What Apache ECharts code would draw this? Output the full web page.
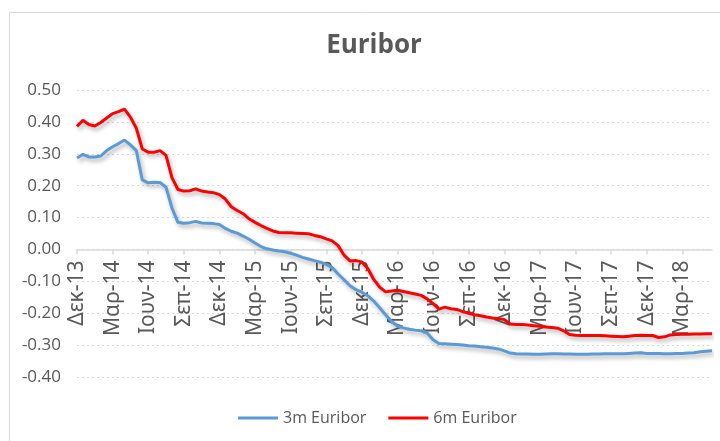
<!DOCTYPE html>
<html>
<head>
<meta charset="utf-8">
<script src="https://cdn.jsdelivr.net/npm/echarts@6/dist/echarts.min.js"></script>
<style>html,body{margin:0;padding:0;background:#fff}#c{width:720px;height:441px}</style>
</head>
<body>
<div id="c"></div>
<script>
// Month names (Greek), starting Dec 2013; each month has two half-month points
const monthNames = ["Ιαν","Φεβ","Μαρ","Απρ","Μαϊ","Ιουν","Ιουλ","Αυγ","Σεπ","Οκτ","Νοε","Δεκ"];
const tickLabels = ["Δεκ-13","Μαρ-14","Ιουν-14","Σεπ-14","Δεκ-14","Μαρ-15","Ιουν-15","Σεπ-15","Δεκ-15","Μαρ-16","Ιουν-16","Σεπ-16","Δεκ-16","Μαρ-17","Ιουν-17","Σεπ-17","Δεκ-17","Μαρ-18"];

const euribor3m = [
 0.287,0.298,0.290,0.290,0.293,0.310,0.322,0.332,0.343,0.328,
 0.310,0.218,0.209,0.211,0.210,0.195,0.130,0.085,0.082,0.084,
 0.088,0.083,0.082,0.081,0.078,0.066,0.057,0.051,0.042,0.032,
 0.020,0.009,0.002,-0.002,-0.005,-0.007,-0.012,-0.018,-0.025,-0.030,
 -0.035,-0.040,-0.047,-0.057,-0.077,-0.095,-0.114,-0.126,-0.134,-0.145,
 -0.162,-0.183,-0.205,-0.226,-0.240,-0.246,-0.250,-0.253,-0.255,-0.262,
 -0.283,-0.295,-0.296,-0.297,-0.298,-0.300,-0.302,-0.303,-0.305,-0.307,
 -0.309,-0.312,-0.318,-0.325,-0.327,-0.328,-0.328,-0.329,-0.329,-0.328,
 -0.327,-0.327,-0.328,-0.328,-0.329,-0.329,-0.329,-0.328,-0.328,-0.327,
 -0.327,-0.327,-0.327,-0.326,-0.325,-0.324,-0.326,-0.326,-0.326,-0.327,
 -0.327,-0.326,-0.326,-0.325,-0.324,-0.321,-0.319,-0.318
];
const euribor6m = [
 0.386,0.405,0.392,0.387,0.398,0.412,0.426,0.432,0.440,0.415,
 0.380,0.315,0.305,0.305,0.310,0.295,0.225,0.188,0.183,0.184,
 0.190,0.183,0.180,0.178,0.172,0.158,0.134,0.122,0.112,0.096,
 0.085,0.075,0.066,0.058,0.053,0.052,0.052,0.051,0.050,0.049,
 0.044,0.040,0.033,0.027,0.012,-0.018,-0.036,-0.035,-0.039,-0.060,
 -0.094,-0.118,-0.133,-0.130,-0.128,-0.132,-0.136,-0.140,-0.144,-0.155,
 -0.170,-0.187,-0.181,-0.186,-0.188,-0.195,-0.200,-0.205,-0.208,-0.212,
 -0.215,-0.217,-0.220,-0.234,-0.235,-0.235,-0.237,-0.239,-0.241,-0.243,
 -0.245,-0.247,-0.255,-0.267,-0.269,-0.270,-0.270,-0.270,-0.270,-0.271,
 -0.272,-0.273,-0.274,-0.272,-0.270,-0.269,-0.270,-0.270,-0.276,-0.274,
 -0.268,-0.267,-0.266,-0.266,-0.265,-0.265,-0.264,-0.264
];

// half-month categories from Dec 2013
const categories = [];
for (let i = 0; i < euribor3m.length; i++) {
  const m = 11 + Math.floor(i / 2);
  const yr = 13 + Math.floor(m / 12);
  categories.push(monthNames[m % 12] + "-" + yr + (i % 2 ? " (β)" : ""));
}

const font = "'Open Sans', sans-serif";
const greekFont = "'Noto Sans', 'Open Sans', sans-serif";
const gridTop = 90, gridBottom = 64, H = 441;
const yMin = -0.4, yMax = 0.5;
const gridH = H - gridTop - gridBottom;
// move the category axis up to the value 0 (labels included, as in the original)
const zeroOffset = -gridH * (0 - yMin) / (yMax - yMin);

const chart = echarts.init(document.getElementById('c'), null, {renderer: 'canvas'});
chart.setOption({
  animation: false,
  backgroundColor: '#ffffff',
  graphic: [{
    type: 'rect', left: 7, top: 10, silent: true,
    shape: {x: 0, y: 0, width: 800, height: 500},
    style: {fill: 'none', stroke: '#d9d9d9', lineWidth: 1}
  }],
  title: {
    text: 'Euribor', left: 369, top: 28, textAlign: 'center',
    textStyle: {fontFamily: font, fontSize: 26, fontWeight: 'bold', color: '#595959'}
  },
  legend: {
    left: 233, top: 405, icon: 'rect', itemWidth: 40, itemHeight: 3, itemGap: 22,
    textStyle: {fontFamily: font, fontSize: 16, color: '#595959'},
    data: ['3m Euribor', '6m Euribor']
  },
  grid: {left: 77, right: 8, top: gridTop, bottom: gridBottom, containLabel: false},
  xAxis: {
    type: 'category', data: categories, boundaryGap: false, offset: zeroOffset,
    axisLine: {onZero: false, lineStyle: {color: '#d9d9d9', width: 1.5}},
    axisTick: {show: true, interval: 5, length: 5, lineStyle: {color: '#d9d9d9', width: 1.5}},
    axisLabel: {
      interval: 5, rotate: 90, margin: 11,
      fontFamily: greekFont, fontSize: 21, color: '#595959',
      formatter: (v, idx) => tickLabels[idx / 6] || ''
    },
    splitLine: {show: false}
  },
  yAxis: {
    type: 'value', min: yMin, max: yMax, interval: 0.1,
    axisLine: {show: false}, axisTick: {show: false},
    axisLabel: {fontFamily: font, fontSize: 17, color: '#595959', margin: 16,
      formatter: v => v.toFixed(2)},
    splitLine: {lineStyle: {color: '#d9d9d9', type: [2, 3], width: 1}}
  },
  series: [
    {name: '3m Euribor', type: 'line', data: euribor3m, symbol: 'none', smooth: false,
     itemStyle: {color: '#5B9BD5'},
     lineStyle: {color: '#5B9BD5', width: 3, shadowColor: 'rgba(0,0,0,0.3)', shadowBlur: 4, shadowOffsetX: 2, shadowOffsetY: 3}},
    {name: '6m Euribor', type: 'line', data: euribor6m, symbol: 'none', smooth: false,
     itemStyle: {color: '#FF0000'},
     lineStyle: {color: '#FF0000', width: 3, shadowColor: 'rgba(0,0,0,0.3)', shadowBlur: 4, shadowOffsetX: 2, shadowOffsetY: 3}}
  ]
});
</script>
</body>
</html>
